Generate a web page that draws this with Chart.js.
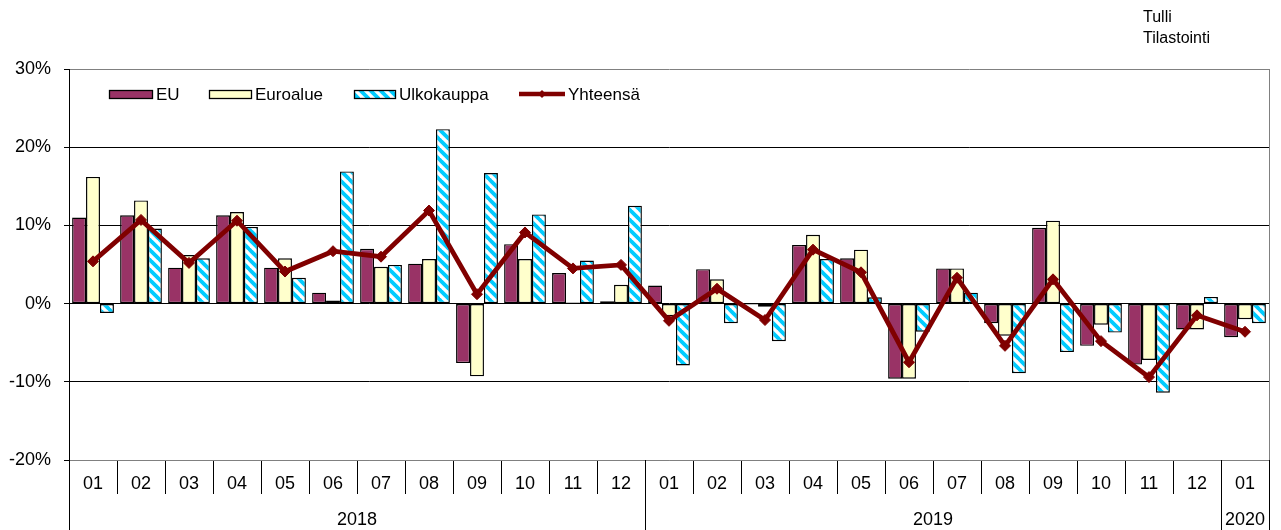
<!DOCTYPE html>
<html>
<head>
<meta charset="utf-8">
<script src="https://cdn.jsdelivr.net/npm/chart.js@4"></script>
<style>
  html, body { margin: 0; padding: 0; background: #fff; }
  #wrap { width: 1281px; height: 530px; position: relative; }
</style>
</head>
<body>
<div id="wrap"><canvas id="c"></canvas></div>
<script>
// ---- data ----
const months = ['01','02','03','04','05','06','07','08','09','10','11','12',
                '01','02','03','04','05','06','07','08','09','10','11','12','01'];
const years = ['2018', '2019', '2020'];
const yearSpans = [12, 12, 1];
const yTicks = [-20, -10, 0, 10, 20, 30];
const seriesNames = ['EU', 'Euroalue', 'Ulkokauppa', 'Yhteensä'];
const eu = [11.0, 11.3, 4.6, 11.3, 4.6, 1.4, 7.0, 5.1, -7.6, 7.6, 3.9, 0.3,
            2.3, 4.4, -0.1, 7.5, 5.8, -9.6, 4.5, -2.5, 9.7, -5.4, -7.8, -3.3, -4.3];
const euroalue = [16.2, 13.2, 6.2, 11.7, 5.8, 0.4, 4.7, 5.7, -9.3, 5.7, 0.15, 2.4,
                  -1.6, 3.1, -0.4, 8.8, 6.9, -9.6, 4.5, -4.1, 10.6, -2.7, -7.2, -3.3, -2.0];
const ulkokauppa = [-1.2, 9.6, 5.8, 9.8, 3.3, 16.9, 4.95, 22.3, 16.7, 11.4, 5.5, 12.5,
                    -7.9, -2.5, -4.8, 5.7, 0.8, -3.6, 1.4, -8.9, -6.2, -3.7, -11.4, 0.85, -2.5];
const yhteensa = [5.4, 10.7, 5.2, 10.6, 4.1, 6.7, 6.0, 11.9, 1.2, 9.1, 4.5, 4.95,
                  -2.2, 1.9, -2.1, 6.9, 4.0, -7.5, 3.3, -5.4, 3.1, -4.8, -9.4, -1.5, -3.6];

// ---- styles ----
const FONT = "'Liberation Sans', Arial, sans-serif";
const FS = 18;
const C_EU = '#993366', C_EURO = '#FFFFCC', C_CYAN = '#00CCFF', C_LINE = '#800000';

function makeStripe() {
  const s = 10;
  const p = document.createElement('canvas');
  p.width = s; p.height = s;
  const g = p.getContext('2d');
  g.fillStyle = '#fff'; g.fillRect(0, 0, s, s);
  g.strokeStyle = C_CYAN; g.lineWidth = 3.8;
  for (const k of [-s, 0, s]) {
    g.beginPath(); g.moveTo(k - 1, -1); g.lineTo(k + s + 1, s + 1); g.stroke();
  }
  return document.getElementById('c').getContext('2d').createPattern(p, 'repeat');
}
const stripe = makeStripe();

const extras = {
  id: 'extras',
  afterDraw(chart) {
    const ctx = chart.ctx, ca = chart.chartArea, xs = chart.scales.x;
    const H = chart.height;
    ctx.save();
    // right plot border
    ctx.strokeStyle = '#808080'; ctx.lineWidth = 1;
    ctx.beginPath(); ctx.moveTo(Math.round(ca.right) + 0.5, ca.top); ctx.lineTo(Math.round(ca.right) + 0.5, ca.bottom); ctx.stroke();
    // year separators and labels
    const half = (xs.getPixelForValue(1) - xs.getPixelForValue(0)) / 2;
    let idx = 0;
    ctx.strokeStyle = '#000';
    ctx.fillStyle = '#000';
    ctx.font = FS + 'px ' + FONT;
    ctx.textAlign = 'center'; ctx.textBaseline = 'middle';
    const edges = [xs.getPixelForValue(0) - half];
    years.forEach((y, i) => {
      const left = xs.getPixelForValue(idx) - half;
      idx += yearSpans[i];
      const right = xs.getPixelForValue(idx - 1) + half;
      edges.push(right);
      ctx.fillText(y, (left + right) / 2, 520);
    });
    edges.forEach(e => {
      const xx = Math.round(e) + 0.5;
      ctx.beginPath(); ctx.moveTo(xx, ca.bottom); ctx.lineTo(xx, H); ctx.stroke();
    });
    // legend
    const ly = 94;
    ctx.font = '17px ' + FONT;
    ctx.textAlign = 'left'; ctx.textBaseline = 'middle';
    const boxes = [
      { x: 109, w: 43, fill: C_EU, tx: 156, t: seriesNames[0] },
      { x: 209, w: 42, fill: C_EURO, tx: 255, t: seriesNames[1] },
      { x: 354, w: 41, fill: stripe, tx: 399, t: seriesNames[2] }
    ];
    boxes.forEach(b => {
      ctx.fillStyle = b.fill;
      ctx.fillRect(b.x, ly - 4, b.w, 8);
      ctx.strokeStyle = '#000'; ctx.lineWidth = 1.3;
      ctx.strokeRect(b.x + 0.5, ly - 4 + 0.5, b.w, 8);
      ctx.fillStyle = '#000';
      ctx.fillText(b.t, b.tx, ly + 1);
    });
    ctx.strokeStyle = C_LINE; ctx.lineWidth = 4.5;
    ctx.beginPath(); ctx.moveTo(519, ly); ctx.lineTo(565, ly); ctx.stroke();
    ctx.fillStyle = C_LINE;
    ctx.beginPath(); ctx.moveTo(542, ly - 4); ctx.lineTo(546, ly); ctx.lineTo(542, ly + 4); ctx.lineTo(538, ly); ctx.closePath(); ctx.fill();
    ctx.fillStyle = '#000';
    ctx.fillText(seriesNames[3], 568, ly + 1);
    // source text
    ctx.font = '16px ' + FONT;
    ctx.fillText('Tulli', 1143, 18);
    ctx.fillText('Tilastointi', 1143, 39);
    ctx.restore();
  }
};

new Chart(document.getElementById('c'), {
  data: {
    labels: months,
    datasets: [
      { type: 'line', label: seriesNames[3], data: yhteensa, order: 0,
        borderColor: C_LINE, backgroundColor: C_LINE, borderWidth: 4.8,
        pointStyle: 'rectRot', pointRadius: 5.5, pointBackgroundColor: C_LINE,
        pointBorderColor: C_LINE, pointBorderWidth: 1, tension: 0 },
      { type: 'bar', label: seriesNames[0], data: eu, order: 1,
        backgroundColor: C_EU, borderColor: '#000', borderWidth: 1.4, borderSkipped: false },
      { type: 'bar', label: seriesNames[1], data: euroalue, order: 1,
        backgroundColor: C_EURO, borderColor: '#000', borderWidth: 1.4, borderSkipped: false },
      { type: 'bar', label: seriesNames[2], data: ulkokauppa, order: 1,
        backgroundColor: stripe, borderColor: '#000', borderWidth: 1.4, borderSkipped: false }
    ]
  },
  options: {
    responsive: true,
    maintainAspectRatio: false,
    animation: false,
    datasets: { bar: { categoryPercentage: 0.87, barPercentage: 1.0 } },
    layout: { padding: { left: 0, right: 12, top: 69, bottom: 0 } },
    plugins: { legend: { display: false }, tooltip: { enabled: false } },
    scales: {
      x: {
        type: 'category',
        afterFit(s) { s.height = 70; },
        grid: { offset: true, drawOnChartArea: false, drawTicks: true, tickLength: 34, color: '#000', lineWidth: 1 },
        border: { display: true, color: '#808080' },
        ticks: { autoSkip: false, maxRotation: 0, minRotation: 0, padding: -21,
                 color: '#000', font: { family: FONT, size: FS } }
      },
      y: {
        min: yTicks[0], max: yTicks[yTicks.length - 1],
        afterFit(s) { s.width = 69; },
        afterBuildTicks(s) { s.ticks = yTicks.map(v => ({ value: v })); },
        grid: {
          color: c => (c.tick && (c.tick.value === 30 || c.tick.value === -20)) ? '#808080' : '#000',
          tickColor: '#000', tickLength: 5, lineWidth: 1
        },
        border: { display: true, color: '#000', width: 1 },
        ticks: { padding: 13, color: '#000', font: { family: FONT, size: FS },
                 callback: v => v + '%' }
      }
    }
  },
  plugins: [extras]
});
</script>
</body>
</html>
